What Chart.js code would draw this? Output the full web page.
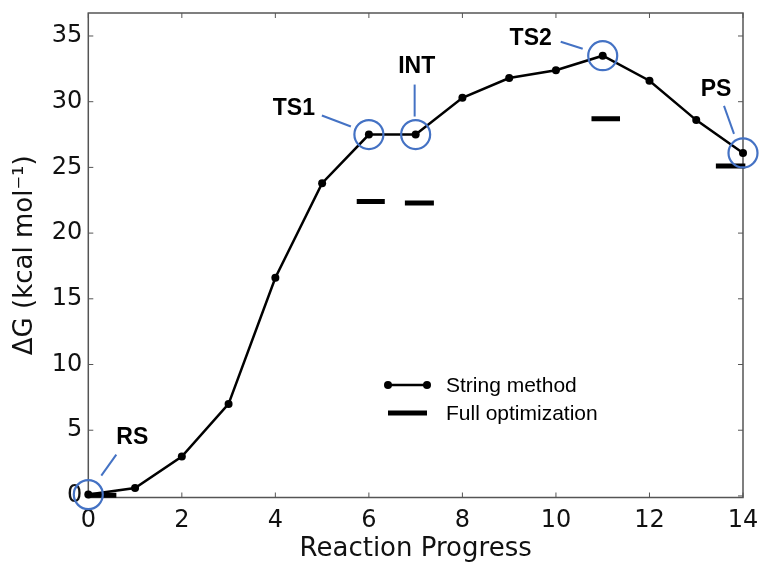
<!DOCTYPE html>
<html lang="en">
<head>
  <meta charset="UTF-8">
  <title>Reaction Progress</title>
  <script src="https://cdn.jsdelivr.net/npm/chart.js"></script>
  <style>
    html, body {
      margin: 0;
      padding: 0;
      background: #ffffff;
    }
    #wrap {
      width: 761px;
      height: 565px;
    }
  </style>
</head>
<body>
  <div id="wrap"><canvas id="grafico" width="761" height="565"></canvas></div>

  <script>
    // String method path
    const stringX = [0, 1, 2, 3, 4, 5, 6, 7, 8, 9, 10, 11, 12, 13, 14];
    const stringY = [0.1, 0.6, 3.0, 7.0, 16.6, 23.8, 27.5, 27.5, 30.3, 31.8, 32.4, 33.5, 31.6, 28.6, 26.1];

    // Full optimization levels (short bars from start to end)
    const fullOptStart = [0.0, 5.74, 6.77, 10.76, 13.42];
    const fullOptEnd = [0.6, 6.34, 7.39, 11.37, 14.05];
    const fullOptY = [0.05, 22.4, 22.3, 28.7, 25.1];

    // Highlighted states
    const stateLabels = ['RS', 'TS1', 'INT', 'TS2', 'PS'];
    const stateIndex = [0, 6, 7, 11, 14];

    const xTicks = [0, 2, 4, 6, 8, 10, 12, 14];
    const yTicks = [0, 5, 10, 15, 20, 25, 30, 35];

    const pts = stringX.map((x, i) => ({ x: x, y: stringY[i] }));

    const barPts = [];
    fullOptStart.forEach((s, i) => {
      barPts.push({ x: s, y: fullOptY[i] });
      barPts.push({ x: fullOptEnd[i], y: fullOptY[i] });
      barPts.push({ x: fullOptEnd[i], y: null });
    });

    const circlePts = stateIndex.map(i => ({ x: stringX[i], y: stringY[i] }));

    const blue = '#4472c4';
    const frameColor = '#555555';

    // where the bold labels and the blue leader lines sit, relative to each circle (px)
    const labelPlace = {
      RS:  { t: [44, -57], a: [13, -19], b: [28, -40] },
      TS1: { t: [-75, -26], a: [-47, -19], b: [-18, -8] },
      INT: { t: [1, -68], a: [-1, -50], b: [-1, -18] },
      TS2: { t: [-72, -17], a: [-42, -14], b: [-20, -7] },
      PS:  { t: [-27, -63], a: [-19, -47], b: [-9, -19] }
    };

    // frame and inward ticks, matplotlib style
    const marco = {
      id: 'marco',
      beforeDatasetsDraw(chart) {
        const { ctx, chartArea: a, scales } = chart;
        ctx.save();
        ctx.strokeStyle = frameColor;
        ctx.lineWidth = 1.5;
        ctx.strokeRect(a.left, a.top, a.right - a.left, a.bottom - a.top);
        ctx.lineWidth = 1;
        const L = 5;
        ctx.beginPath();
        xTicks.forEach(v => {
          const px = scales.x.getPixelForValue(v);
          ctx.moveTo(px, a.bottom); ctx.lineTo(px, a.bottom - L);
          ctx.moveTo(px, a.top); ctx.lineTo(px, a.top + L);
        });
        yTicks.forEach(v => {
          const py = scales.y.getPixelForValue(v);
          ctx.moveTo(a.left, py); ctx.lineTo(a.left + L, py);
          ctx.moveTo(a.right, py); ctx.lineTo(a.right - L, py);
        });
        ctx.stroke();
        ctx.restore();
      }
    };

    // labels, leader lines and the small legend
    const notas = {
      id: 'notas',
      afterDraw(chart) {
        const { ctx, scales } = chart;
        ctx.save();
        ctx.font = 'bold 23px "Liberation Sans", Arial, sans-serif';
        ctx.textAlign = 'center';
        ctx.textBaseline = 'middle';
        stateLabels.forEach((lab, k) => {
          const i = stateIndex[k];
          const cx = scales.x.getPixelForValue(stringX[i]);
          const cy = scales.y.getPixelForValue(stringY[i]);
          const p = labelPlace[lab];
          ctx.fillStyle = '#000';
          ctx.fillText(lab, cx + p.t[0], cy + p.t[1]);
          ctx.strokeStyle = blue;
          ctx.lineWidth = 2;
          ctx.beginPath();
          ctx.moveTo(cx + p.a[0], cy + p.a[1]);
          ctx.lineTo(cx + p.b[0], cy + p.b[1]);
          ctx.stroke();
        });

        // legend
        ctx.strokeStyle = '#000';
        ctx.fillStyle = '#000';
        ctx.lineWidth = 2.5;
        ctx.beginPath();
        ctx.moveTo(388, 385); ctx.lineTo(427, 385);
        ctx.stroke();
        [388, 427].forEach(x => {
          ctx.beginPath();
          ctx.arc(x, 385, 4, 0, Math.PI * 2);
          ctx.fill();
        });
        ctx.lineWidth = 5;
        ctx.beginPath();
        ctx.moveTo(388, 413); ctx.lineTo(427, 413);
        ctx.stroke();
        ctx.font = '21px "Liberation Sans", Arial, sans-serif';
        ctx.textAlign = 'left';
        ctx.fillText('String method', 446, 386);
        ctx.fillText('Full optimization', 446, 414);
        ctx.restore();
      }
    };

    const ctx = document.getElementById('grafico').getContext('2d');
    const grafico = new Chart(ctx, {
      type: 'line',
      data: {
        datasets: [
          {
            label: 'States',
            data: circlePts,
            showLine: false,
            pointRadius: 14.5,
            pointHoverRadius: 14.5,
            pointBorderWidth: 2.2,
            pointBorderColor: blue,
            pointBackgroundColor: 'rgba(0,0,0,0)',
            clip: false,
            order: 0
          },
          {
            label: 'String method',
            data: pts,
            borderColor: '#000',
            backgroundColor: '#000',
            borderWidth: 2.5,
            pointRadius: 4,
            pointBackgroundColor: '#000',
            pointBorderWidth: 0,
            tension: 0,
            clip: false,
            order: 1
          },
          {
            label: 'Full optimization',
            data: barPts,
            borderColor: '#000',
            borderWidth: 5,
            borderCapStyle: 'butt',
            pointRadius: 0,
            spanGaps: false,
            clip: false,
            order: 2
          }
        ]
      },
      options: {
        responsive: false,
        animation: false,
        events: [],
        layout: { autoPadding: false, padding: { top: 13, right: 18, left: 0, bottom: 0 } },
        plugins: {
          legend: { display: false },
          tooltip: { enabled: false }
        },
        scales: {
          x: {
            type: 'linear',
            min: 0,
            max: 14,
            grid: { display: false, drawTicks: false },
            border: { display: false },
            afterBuildTicks: s => { s.ticks = xTicks.map(v => ({ value: v })); },
            afterFit: s => { s.height = 67.5; s.paddingLeft = 0; s.paddingRight = 0; },
            ticks: {
              color: '#111',
              padding: 9,
              font: { family: '"DejaVu Sans", sans-serif', size: 24 }
            },
            title: {
              display: true,
              text: 'Reaction Progress',
              color: '#111',
              padding: { top: 0, bottom: 0 },
              font: { family: '"DejaVu Sans", sans-serif', size: 26 }
            }
          },
          y: {
            min: -0.12,
            max: 36.75,
            grid: { display: false, drawTicks: false },
            border: { display: false },
            afterBuildTicks: s => { s.ticks = yTicks.map(v => ({ value: v })); },
            afterFit: s => { s.width = 88.3; s.paddingTop = 0; s.paddingBottom = 0; },
            ticks: {
              color: '#111',
              padding: 6,
              font: { family: '"DejaVu Sans", sans-serif', size: 24 }
            },
            title: {
              display: true,
              text: 'ΔG (kcal mol⁻¹)',
              color: '#111',
              padding: { top: 10, bottom: 0 },
              font: { family: '"DejaVu Sans", sans-serif', size: 26 }
            }
          }
        }
      },
      plugins: [marco, notas]
    });
  </script>
</body>
</html>
